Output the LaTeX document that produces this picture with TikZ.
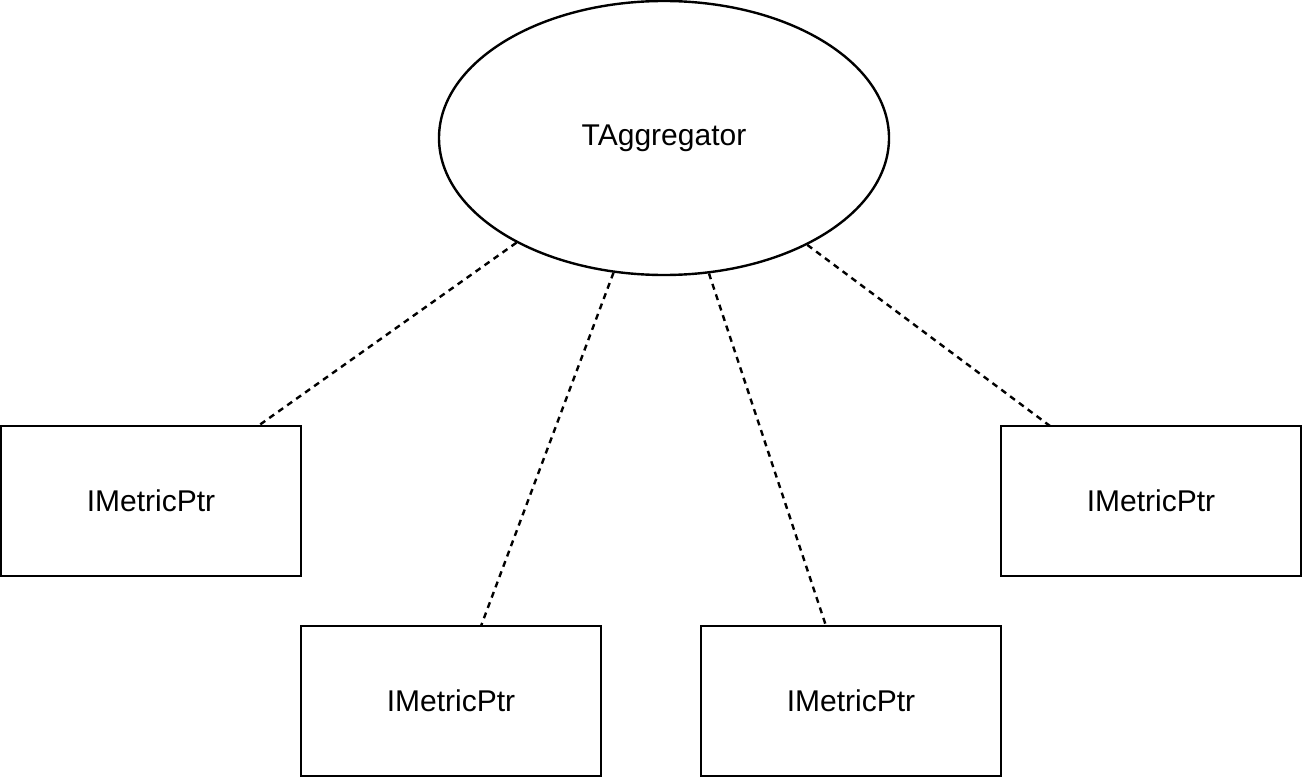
\documentclass[tikz,border=0pt]{standalone}
\usepackage{fontspec}
\setmainfont{Liberation Sans}
\usetikzlibrary{shapes.geometric}
\newcommand\lblfont{\fontsize{30pt}{35pt}\selectfont}
\begin{document}
\begin{tikzpicture}[x=1pt,y=-1pt,
  box/.style={draw,line width=2.4pt,minimum width=300pt,minimum height=150pt,inner sep=0pt,font=\lblfont},
  oval/.style={ellipse,draw,line width=2.4pt,minimum width=450pt,minimum height=274pt,inner sep=0pt,font=\lblfont},
  link/.style={line width=2.4pt,dash pattern=on 6pt off 5pt}]
\useasboundingbox (0,0) rectangle (1303,778);
\node[oval] (e) at (664,138) {\raisebox{-2pt}{TAggregator}};
\node[box] (b1) at (151,501) {IMetricPtr};
\node[box] (b2) at (451,701) {IMetricPtr};
\node[box] (b3) at (851,701) {IMetricPtr};
\node[box] (b4) at (1151,501) {IMetricPtr};
\coordinate (c1) at (258,426);
\coordinate (c2) at (481,626);
\coordinate (c3) at (826,626);
\coordinate (c4) at (1050,426);
\draw[link] (e) -- (c1);
\draw[link] (e) -- (c2);
\draw[link] (e) -- (c3);
\draw[link] (e) -- (c4);
\end{tikzpicture}
\end{document}
